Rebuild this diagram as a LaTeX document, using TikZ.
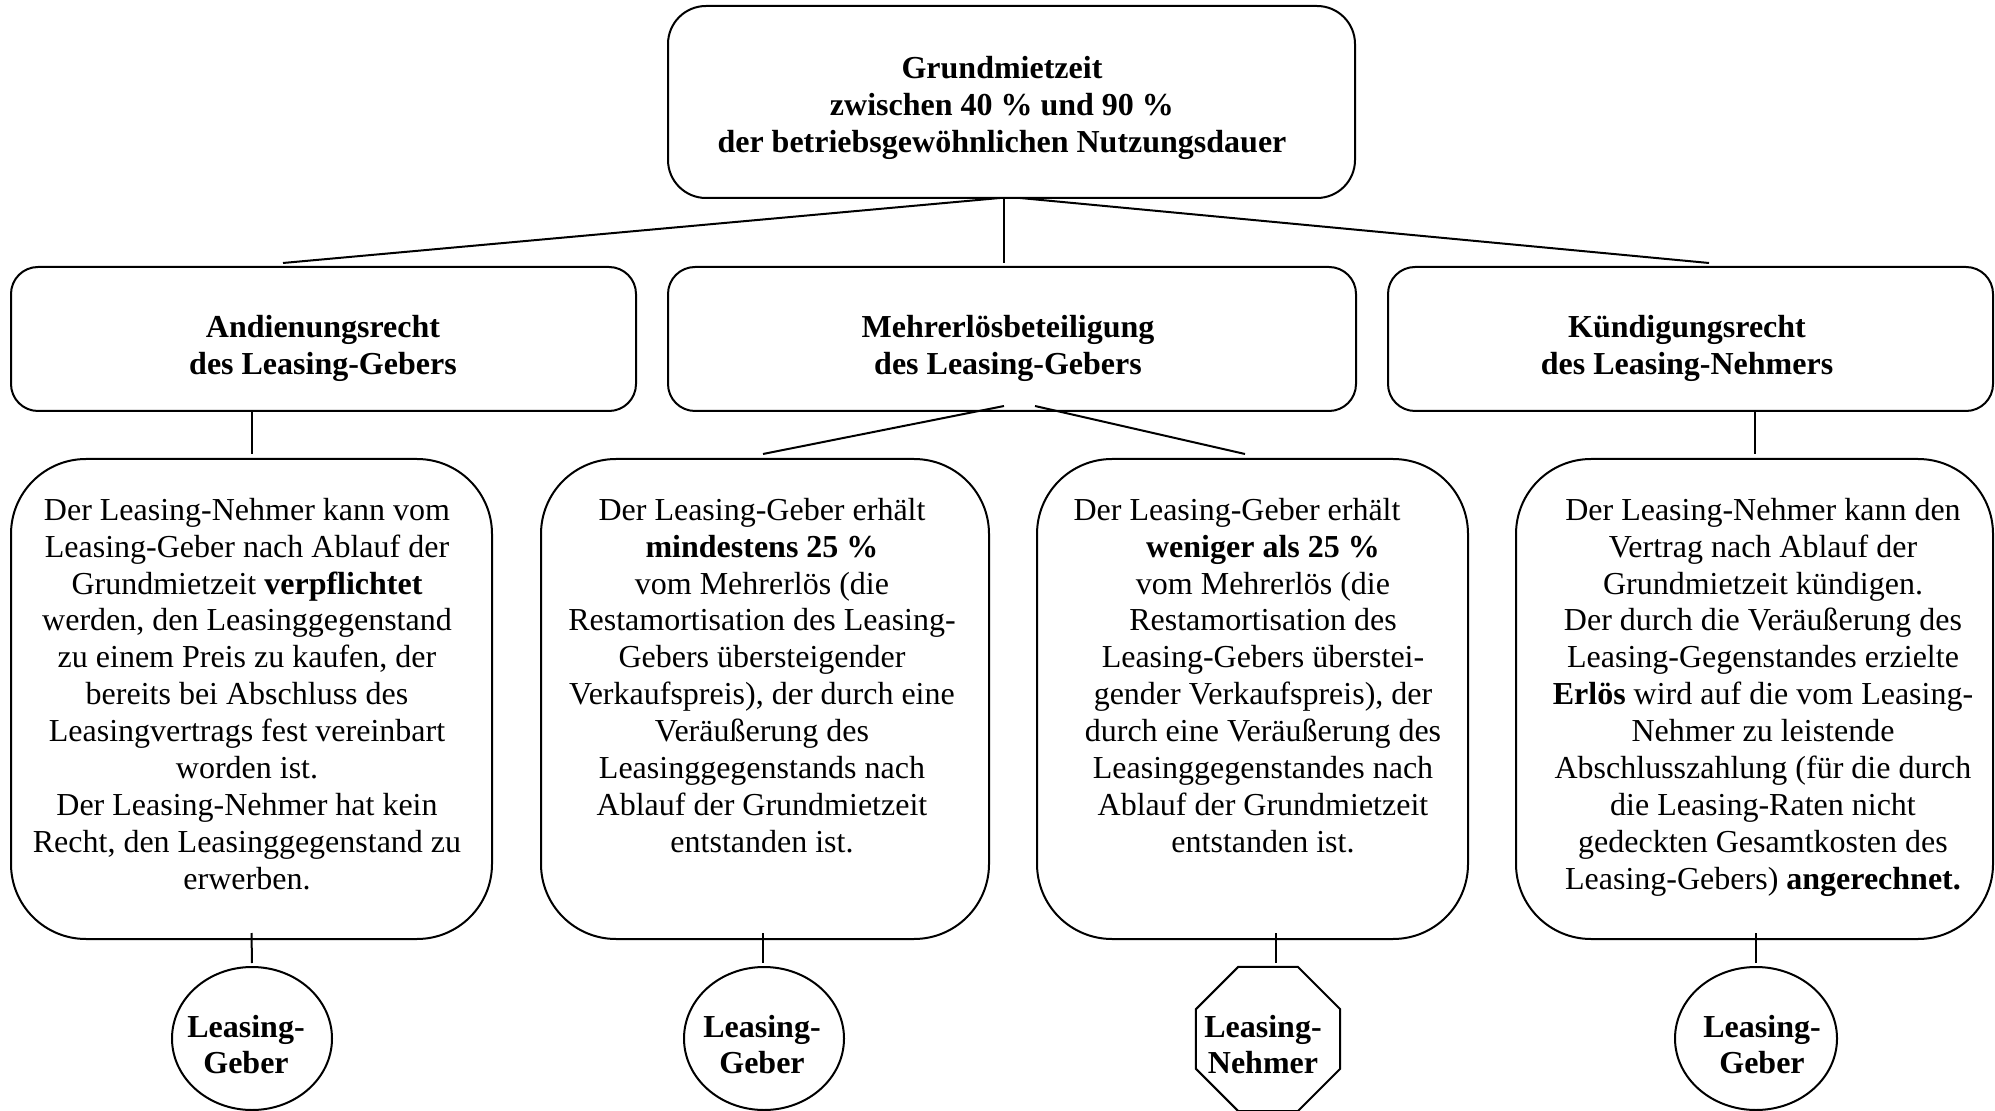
\documentclass[tikz,border=0pt]{standalone}
\usepackage{fontspec}
\setmainfont{Liberation Serif}
\usetikzlibrary{shapes.geometric,calc}
\begin{document}
\begin{tikzpicture}[x=0.5pt,y=-0.5pt,
  every node/.style={inner sep=0pt, outer sep=0pt},
  frame/.style={draw, line width=1pt},
  conn/.style={draw, line width=1pt},
  txt/.style={align=center, font=\fontsize{16pt}{18.45pt}\selectfont},
  bodytxt/.style={txt, anchor=north},
  headtxt/.style={txt, font=\fontsize{16pt}{18.45pt}\selectfont\bfseries},
  oval/.style={frame, ellipse, minimum width=80pt, minimum height=71.5pt},
]
\useasboundingbox (0,0) rectangle (1995,1111);

% top box
\node[frame, rounded corners=19pt, minimum width=343.5pt, minimum height=96pt] (top) at (1011.5,102) {};
\node[headtxt] (toptxt) at (1002,108) {Grundmietzeit\\zwischen 40 \% und 90 \%\\der betriebsgewöhnlichen Nutzungsdauer};

% second row
\node[frame, rounded corners=13.5pt, minimum width=312.5pt, minimum height=72pt] (L) at (323.5,339) {};
\node[frame, rounded corners=13.5pt, minimum width=344pt, minimum height=72pt] (M) at (1012,339) {};
\node[frame, rounded corners=13.5pt, minimum width=302.5pt, minimum height=72pt] (R) at (1690.5,339) {};
\node[headtxt] (Ltxt) at (323,348) {Andienungsrecht\\des Leasing-Gebers};
\node[headtxt] (Mtxt) at (1008,348) {Mehrerlösbeteiligung\\des Leasing-Gebers};
\node[headtxt] (Rtxt) at (1687,348) {Kündigungsrecht\\des Leasing-Nehmers};

% third row
\node[frame, rounded corners=37.5pt, minimum width=240.5pt, minimum height=240pt] (A) at (251.5,699) {};
\node[frame, rounded corners=37.5pt, minimum width=224pt, minimum height=240pt] (B) at (765,699) {};
\node[frame, rounded corners=37.5pt, minimum width=215.5pt, minimum height=240pt] (C) at (1252.5,699) {};
\node[frame, rounded corners=37.5pt, minimum width=238.5pt, minimum height=240pt] (D) at (1754.5,699) {};

\node[bodytxt] (Atxt) at (247,498) {Der Leasing-Nehmer kann vom\\Leasing-Geber nach Ablauf der\\Grundmietzeit \textbf{verpflichtet}\\werden, den Leasinggegenstand\\zu einem Preis zu kaufen, der\\bereits bei Abschluss des\\Leasingvertrags fest vereinbart\\worden ist.\\Der Leasing-Nehmer hat kein\\Recht, den Leasinggegenstand zu\\erwerben.};
\node[bodytxt] (Btxt) at (762,498) {Der Leasing-Geber erhält\\\textbf{mindestens 25 \%}\\vom Mehrerlös (die\\Restamortisation des Leasing-\\Gebers übersteigender\\Verkaufspreis), der durch eine\\Veräußerung des\\Leasinggegenstands nach\\Ablauf der Grundmietzeit\\entstanden ist.};
\node[bodytxt] (Ctxt) at (1263,498) {Der Leasing-Geber erhält\hspace*{26pt}\\\textbf{weniger als 25 \%}\\vom Mehrerlös (die\\Restamortisation des\\Leasing-Gebers überstei-\\gender Verkaufspreis), der\\durch eine Veräußerung des\\Leasinggegenstandes nach\\Ablauf der Grundmietzeit\\entstanden ist.};
\node[bodytxt] (Dtxt) at (1763,498) {Der Leasing-Nehmer kann den\\Vertrag nach Ablauf der\\Grundmietzeit kündigen.\\Der durch die Veräußerung des\\Leasing-Gegenstandes erzielte\\\textbf{Erlös} wird auf die vom Leasing-\\Nehmer zu leistende\\Abschlusszahlung (für die durch\\die Leasing-Raten nicht\\gedeckten Gesamtkosten des\\Leasing-Gebers) \textbf{angerechnet.}};

% bottom shapes
\node[oval] (cA) at (252,1038.5) {};
\node[oval] (cB) at (764,1038.5) {};
\node[frame, regular polygon, regular polygon sides=8, minimum size=78pt] (cC) at (1268,1039) {};
\node[oval, minimum width=81pt] (cD) at (1756,1038.5) {};
\node[headtxt] (cAtxt) at (246,1044.5) {Leasing-\\Geber};
\node[headtxt] (cBtxt) at (762,1044.5) {Leasing-\\Geber};
\node[headtxt] (cCtxt) at (1263,1044.5) {Leasing-\\Nehmer};
\node[headtxt] (cDtxt) at (1762,1044.5) {Leasing-\\Geber};

% connector end points
\coordinate (tl) at (1000,198);
\coordinate (tm) at (1004,198);
\coordinate (tr) at (1020,198);
\coordinate (Lend) at (283,263);
\coordinate (Mend) at (1004,263);
\coordinate (Rend) at (1709,263);
\coordinate (ml) at (1004,406);
\coordinate (mr) at (1035,406);
\coordinate (Bend) at (763,454);
\coordinate (Cend) at (1245,454);
\coordinate (Cbot) at (1276,933);

% connectors
\draw[conn] (tl) -- (Lend);
\draw[conn] (tm) -- (Mend);
\draw[conn] (tr) -- (Rend);
\draw[conn] (L.south -| A.north) -- ($(A.north)+(0,-5)$);
\draw[conn] (R.south -| D.north) -- ($(D.north)+(0,-5)$);
\draw[conn] (ml) -- (Bend);
\draw[conn] (mr) -- (Cend);
\draw[conn] ($(A.south)+(0,-6)$) -- ($(cA.north)+(0,-4)$);
\draw[conn] ($(B.south)+(-2,-6)$) -- ($(cB.north)+(-1,-4)$);
\draw[conn] (Cbot) -- (Cbot |- 0,963);
\draw[conn] ($(D.south)+(1.5,-6)$) -- ($(cD.north)+(0,-4)$);
\end{tikzpicture}
\end{document}
